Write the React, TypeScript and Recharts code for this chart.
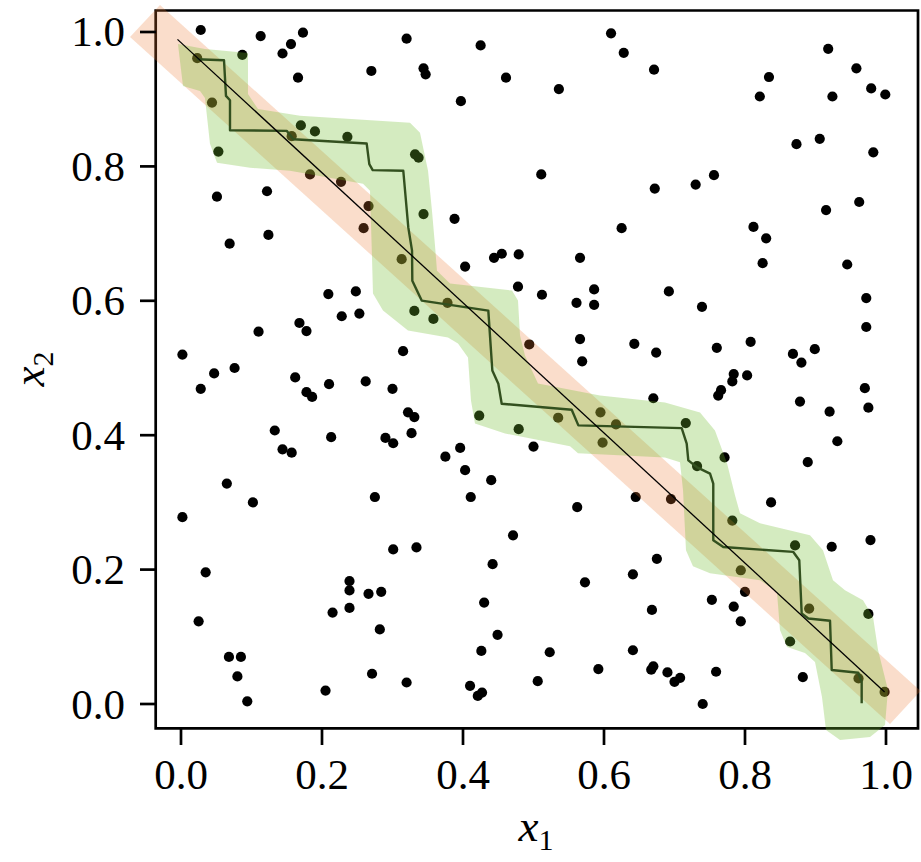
import React from 'react';
import { ScatterChart, Scatter, XAxis, YAxis, ReferenceArea } from 'recharts';

// ---------------- data ----------------
const sampleX1 = [
  0.028, 0.113, 0.173, 0.156, 0.144, 0.320, 0.270, 0.166, 0.023, 0.087, 0.044, 0.053, 0.170, 0.157, 0.190, 0.236,
  0.183, 0.227, 0.266, 0.259, 0.051, 0.122, 0.069, 0.124,
  0.425, 0.344, 0.347, 0.461, 0.397, 0.536, 0.610, 0.628, 0.671, 0.511, 0.672, 0.388, 0.625, 0.332, 0.337, 0.344,
  0.918, 0.958, 0.834, 0.821, 0.924, 0.979, 0.999, 0.873, 0.906, 0.982, 0.756, 0.730, 0.962, 0.915, 0.812, 0.830,
  0.313, 0.209, 0.248, 0.228, 0.253, 0.168, 0.178, 0.110, 0.002, 0.047, 0.076, 0.028, 0.162, 0.178, 0.186, 0.210,
  0.262, 0.300, 0.315, 0.133, 0.144, 0.157, 0.213, 0.290, 0.301, 0.065,
  0.403, 0.444, 0.455, 0.479, 0.566, 0.478, 0.512, 0.561, 0.586, 0.586, 0.566, 0.569, 0.643, 0.674, 0.670, 0.494,
  0.378, 0.331, 0.358, 0.423, 0.479, 0.535, 0.595, 0.617, 0.598, 0.322, 0.331, 0.327, 0.500, 0.396, 0.375, 0.403, 0.440,
  0.825, 0.945, 0.692, 0.739, 0.972, 0.972, 0.760, 0.808, 0.868, 0.880, 0.899, 0.784, 0.782, 0.803, 0.766, 0.762,
  0.970, 0.975, 0.878, 0.920, 0.931, 0.889, 0.716, 0.732, 0.771,
  0.102, 0.002, 0.275, 0.301, 0.035, 0.025, 0.068, 0.085, 0.080, 0.094, 0.239, 0.239, 0.266, 0.284, 0.215, 0.239,
  0.282, 0.271, 0.205, 0.320,
  0.411, 0.562, 0.645, 0.334, 0.471, 0.442, 0.573, 0.641, 0.675, 0.430, 0.668, 0.449, 0.426, 0.523, 0.641, 0.592,
  0.670, 0.667, 0.410, 0.427, 0.421, 0.506,
  0.695, 0.837, 0.923, 0.978, 0.782, 0.871, 0.794, 0.800, 0.753, 0.784, 0.794, 0.891, 0.975, 0.864, 0.759, 0.690,
  0.700, 0.708, 0.882, 0.740, 0.961, 0.998,
];
const sampleX2 = [
  1.003, 0.994, 0.999, 0.982, 0.968, 0.990, 0.942, 0.932, 0.961, 0.966, 0.895, 0.822, 0.861, 0.845, 0.852, 0.844,
  0.788, 0.777, 0.741, 0.708, 0.755, 0.763, 0.685, 0.698,
  0.980, 0.946, 0.937, 0.932, 0.897, 0.915, 0.998, 0.969, 0.944, 0.788, 0.767, 0.722, 0.708, 0.818, 0.813, 0.729,
  0.975, 0.946, 0.933, 0.904, 0.904, 0.916, 0.907, 0.833, 0.841, 0.821, 0.787, 0.773, 0.747, 0.735, 0.710, 0.693,
  0.662, 0.610, 0.614, 0.577, 0.581, 0.567, 0.555, 0.554, 0.520, 0.492, 0.500, 0.469, 0.486, 0.464, 0.457, 0.476,
  0.480, 0.469, 0.525, 0.407, 0.379, 0.374, 0.397, 0.396, 0.388, 0.328,
  0.651, 0.664, 0.670, 0.669, 0.664, 0.621, 0.609, 0.597, 0.617, 0.594, 0.543, 0.510, 0.536, 0.523, 0.455, 0.535,
  0.597, 0.585, 0.573, 0.429, 0.409, 0.426, 0.434, 0.416, 0.389, 0.434, 0.427, 0.403, 0.383, 0.381, 0.368, 0.348, 0.333,
  0.656, 0.654, 0.614, 0.591, 0.604, 0.561, 0.530, 0.539, 0.521, 0.508, 0.528, 0.491, 0.480, 0.489, 0.467, 0.459,
  0.470, 0.441, 0.450, 0.435, 0.391, 0.360, 0.418, 0.354, 0.367,
  0.300, 0.278, 0.308, 0.230, 0.196, 0.123, 0.070, 0.070, 0.041, 0.004, 0.183, 0.169, 0.164, 0.167, 0.136, 0.143,
  0.111, 0.045, 0.020, 0.032,
  0.308, 0.293, 0.308, 0.233, 0.251, 0.208, 0.181, 0.193, 0.216, 0.151, 0.140, 0.103, 0.079, 0.077, 0.080, 0.052,
  0.056, 0.051, 0.027, 0.017, 0.012, 0.034,
  0.305, 0.300, 0.234, 0.244, 0.273, 0.236, 0.199, 0.167, 0.155, 0.145, 0.123, 0.142, 0.134, 0.093, 0.048, 0.047,
  0.033, 0.039, 0.040, 0.000, 0.038, 0.018,
];

// stepwise fitted boundary
const stepX1 = [
  0.0223, 0.0610, 0.0638, 0.0695, 0.0695, 0.1499, 0.1593, 0.2634, 0.2671, 0.2719, 0.3153, 0.3224, 0.3277, 0.3281,
  0.3414, 0.4359, 0.4416, 0.4501, 0.4549, 0.5542, 0.5636, 0.7102, 0.7173, 0.7196, 0.7315, 0.7504, 0.7550, 0.7550,
  0.7692, 0.8685, 0.8770, 0.8804, 0.8898, 0.9206, 0.9230, 0.9607, 0.9655, 0.9655,
];
const stepX2 = [
  0.9594, 0.9579, 0.9049, 0.8985, 0.8539, 0.8529, 0.8405, 0.8340, 0.8034, 0.7945, 0.7935, 0.7092, 0.6746, 0.6300,
  0.6003, 0.5854, 0.4963, 0.4765, 0.4468, 0.4379, 0.4146, 0.4105, 0.3874, 0.3626, 0.3526, 0.3428, 0.3279, 0.2437,
  0.2337, 0.2263, 0.2140, 0.1348, 0.1273, 0.1238, 0.0505, 0.0465, 0.0331, 0.0010,
];

// green uncertainty region outline
const greenBandX1 = [
  -0.0043, 0.0340, 0.0950, 0.0950, 0.1092, 0.1688, 0.3248, 0.3390, 0.3504, 0.3560, 0.3603, 0.3631, 0.3816, 0.4695,
  0.4780, 0.4809, 0.4879, 0.5064, 0.5943, 0.6865, 0.7362, 0.7574, 0.7745, 0.7858, 0.7929, 0.8213, 0.8922, 0.9106,
  0.9248, 0.9418, 0.9674, 0.9816, 0.9887, 1.0028, 0.9986, 0.9773, 0.9348, 0.9149, 0.9092, 0.8993, 0.8851, 0.8596,
  0.8496, 0.8454, 0.8213, 0.7504, 0.7262, 0.7163, 0.7121, 0.7078, 0.6865, 0.5631, 0.5518, 0.4596, 0.4170, 0.4113,
  0.4071, 0.3929, 0.3787, 0.3220, 0.2865, 0.2723, 0.2709, 0.2681, 0.2582, 0.1546, 0.0979, 0.0511, 0.0411, 0.0340,
  0.0270, 0.0028, -0.0043,
];
const greenBandX2 = [
  0.9822, 0.9747, 0.9688, 0.9079, 0.8856, 0.8752, 0.8648, 0.8499, 0.7935, 0.7340, 0.6820, 0.6449, 0.6256, 0.6152,
  0.6003, 0.5483, 0.5186, 0.4770, 0.4591, 0.4487, 0.4339, 0.4071, 0.3581, 0.3105, 0.2838, 0.2689, 0.2511, 0.2288,
  0.1842, 0.1694, 0.1545, 0.1293, 0.0802, 0.0208, -0.0312, -0.0490, -0.0535, -0.0386, 0.0104, 0.0624, 0.0758, 0.0847,
  0.1100, 0.1664, 0.1842, 0.1947, 0.2051, 0.2288, 0.3180, 0.3596, 0.3670, 0.3730, 0.3834, 0.4027, 0.4175, 0.4517,
  0.5156, 0.5364, 0.5453, 0.5557, 0.5854, 0.6107, 0.6657, 0.7637, 0.7741, 0.7935, 0.7979, 0.8053, 0.8336, 0.9019,
  0.9123, 0.9198, 0.9822,
];

// salmon band around the true boundary (corners)
const salmonBandX1 = [-0.0723, -0.0298, 1.049, 1.0057, -0.0723];
const salmonBandX2 = [0.9926, 1.0401, 0.0193, -0.0297, 0.9926];

// straight boundary line
const diagonalX1 = [-0.005, 0.998];
const diagonalX2 = [0.989, 0.018];

const tickValues = [0, 0.2, 0.4, 0.6, 0.8, 1.0];
const tickLabels = ['0.0', '0.2', '0.4', '0.6', '0.8', '1.0'];

// axis extents (plot area covers the overflow of the bands)
const X_DOMAIN: [number, number] = [-0.079433, 1.049645];
const Y_DOMAIN: [number, number] = [-0.068452, 1.047619];
const FRAME = { x1: -0.0359, x2: 1.0454, y1: -0.0362, y2: 1.032 };

// ---------------- helpers ----------------
const zip = (xs: number[], ys: number[]) => xs.map((x, i) => ({ x, y: ys[i] }));
const samples = zip(sampleX1, sampleX2);
const stepLine = zip(stepX1, stepX2);
const greenBand = zip(greenBandX1, greenBandX2);
const salmonBand = zip(salmonBandX1, salmonBandX2);
const diagonal = zip(diagonalX1, diagonalX2);

const FONT = '"Liberation Serif", "Times New Roman", Times, serif';
const labelFor = (v: number) => tickLabels[tickValues.indexOf(v)] ?? v.toFixed(1);

const Hidden = () => <g />;
const BlackDot = (p: any) => <circle cx={p.cx} cy={p.cy} r={5.1} fill="#000" />;

const XTick = (p: any) => {
  const { x, y, payload } = p;
  return (
    <g>
      <line x1={x} x2={x} y1={y - 22} y2={y - 5} stroke="#000" strokeWidth={2.7} />
      <text x={x} y={y + 39} textAnchor="middle" fontFamily={FONT} fontSize={43} fill="#000">
        {labelFor(payload.value)}
      </text>
    </g>
  );
};

const YTick = (p: any) => {
  const { x, y, payload } = p;
  return (
    <g>
      <line x1={x + 15} x2={x + 31} y1={y} y2={y} stroke="#000" strokeWidth={2.7} />
      <text x={x} y={y + 14.5} textAnchor="end" fontFamily={FONT} fontSize={43} fill="#000">
        {labelFor(payload.value)}
      </text>
    </g>
  );
};

const XTitle = () => (
  <text x={536} y={841} textAnchor="middle" fontFamily={FONT} fontSize={45} fill="#000">
    <tspan fontStyle="italic">x</tspan>
    <tspan fontSize={30} dy={9}>1</tspan>
  </text>
);

const YTitle = () => (
  <text
    x={44}
    y={369}
    transform="rotate(-90 44 369)"
    textAnchor="middle"
    fontFamily={FONT}
    fontSize={45}
    fill="#000"
  >
    <tspan fontStyle="italic">x</tspan>
    <tspan fontSize={30} dy={9}>2</tspan>
  </text>
);

export default function App() {
  return (
    <div style={{ position: 'absolute', left: 0, top: 0, width: 921, height: 862, background: '#fff' }}>
      <ScatterChart width={921} height={862} margin={{ top: 0, right: 0, bottom: 0, left: 0 }}>
        <XAxis
          type="number"
          dataKey="x"
          domain={X_DOMAIN}
          ticks={tickValues}
          interval={0}
          height={112}
          axisLine={false}
          tickLine={false}
          tickSize={0}
          tickMargin={0}
          tick={<XTick />}
          label={<XTitle />}
        />
        <YAxis
          type="number"
          dataKey="y"
          domain={Y_DOMAIN}
          ticks={tickValues}
          interval={0}
          width={125}
          axisLine={false}
          tickLine={false}
          tickSize={0}
          tickMargin={0}
          tick={<YTick />}
          label={<YTitle />}
        />
        <ReferenceArea
          x1={FRAME.x1}
          x2={FRAME.x2}
          y1={FRAME.y1}
          y2={FRAME.y2}
          fill="none"
          fillOpacity={0}
          stroke="#000"
          strokeWidth={2.7}
          ifOverflow="visible"
        />
        <Scatter data={samples} shape={BlackDot} isAnimationActive={false} />
        <Scatter
          data={salmonBand}
          shape={Hidden}
          line={{ fill: '#EB772F', fillOpacity: 0.25, stroke: 'none', strokeWidth: 0 }}
          isAnimationActive={false}
        />
        <Scatter
          data={greenBand}
          shape={Hidden}
          line={{ fill: '#70BC2D', fillOpacity: 0.3, stroke: 'none', strokeWidth: 0 }}
          isAnimationActive={false}
        />
        <Scatter
          data={stepLine}
          shape={Hidden}
          line={{ stroke: '#33501f', strokeWidth: 2.4, fill: 'none', strokeLinejoin: 'round' }}
          isAnimationActive={false}
        />
        <Scatter
          data={diagonal}
          shape={Hidden}
          line={{ stroke: '#000', strokeWidth: 1.3, fill: 'none' }}
          isAnimationActive={false}
        />
      </ScatterChart>
    </div>
  );
}
